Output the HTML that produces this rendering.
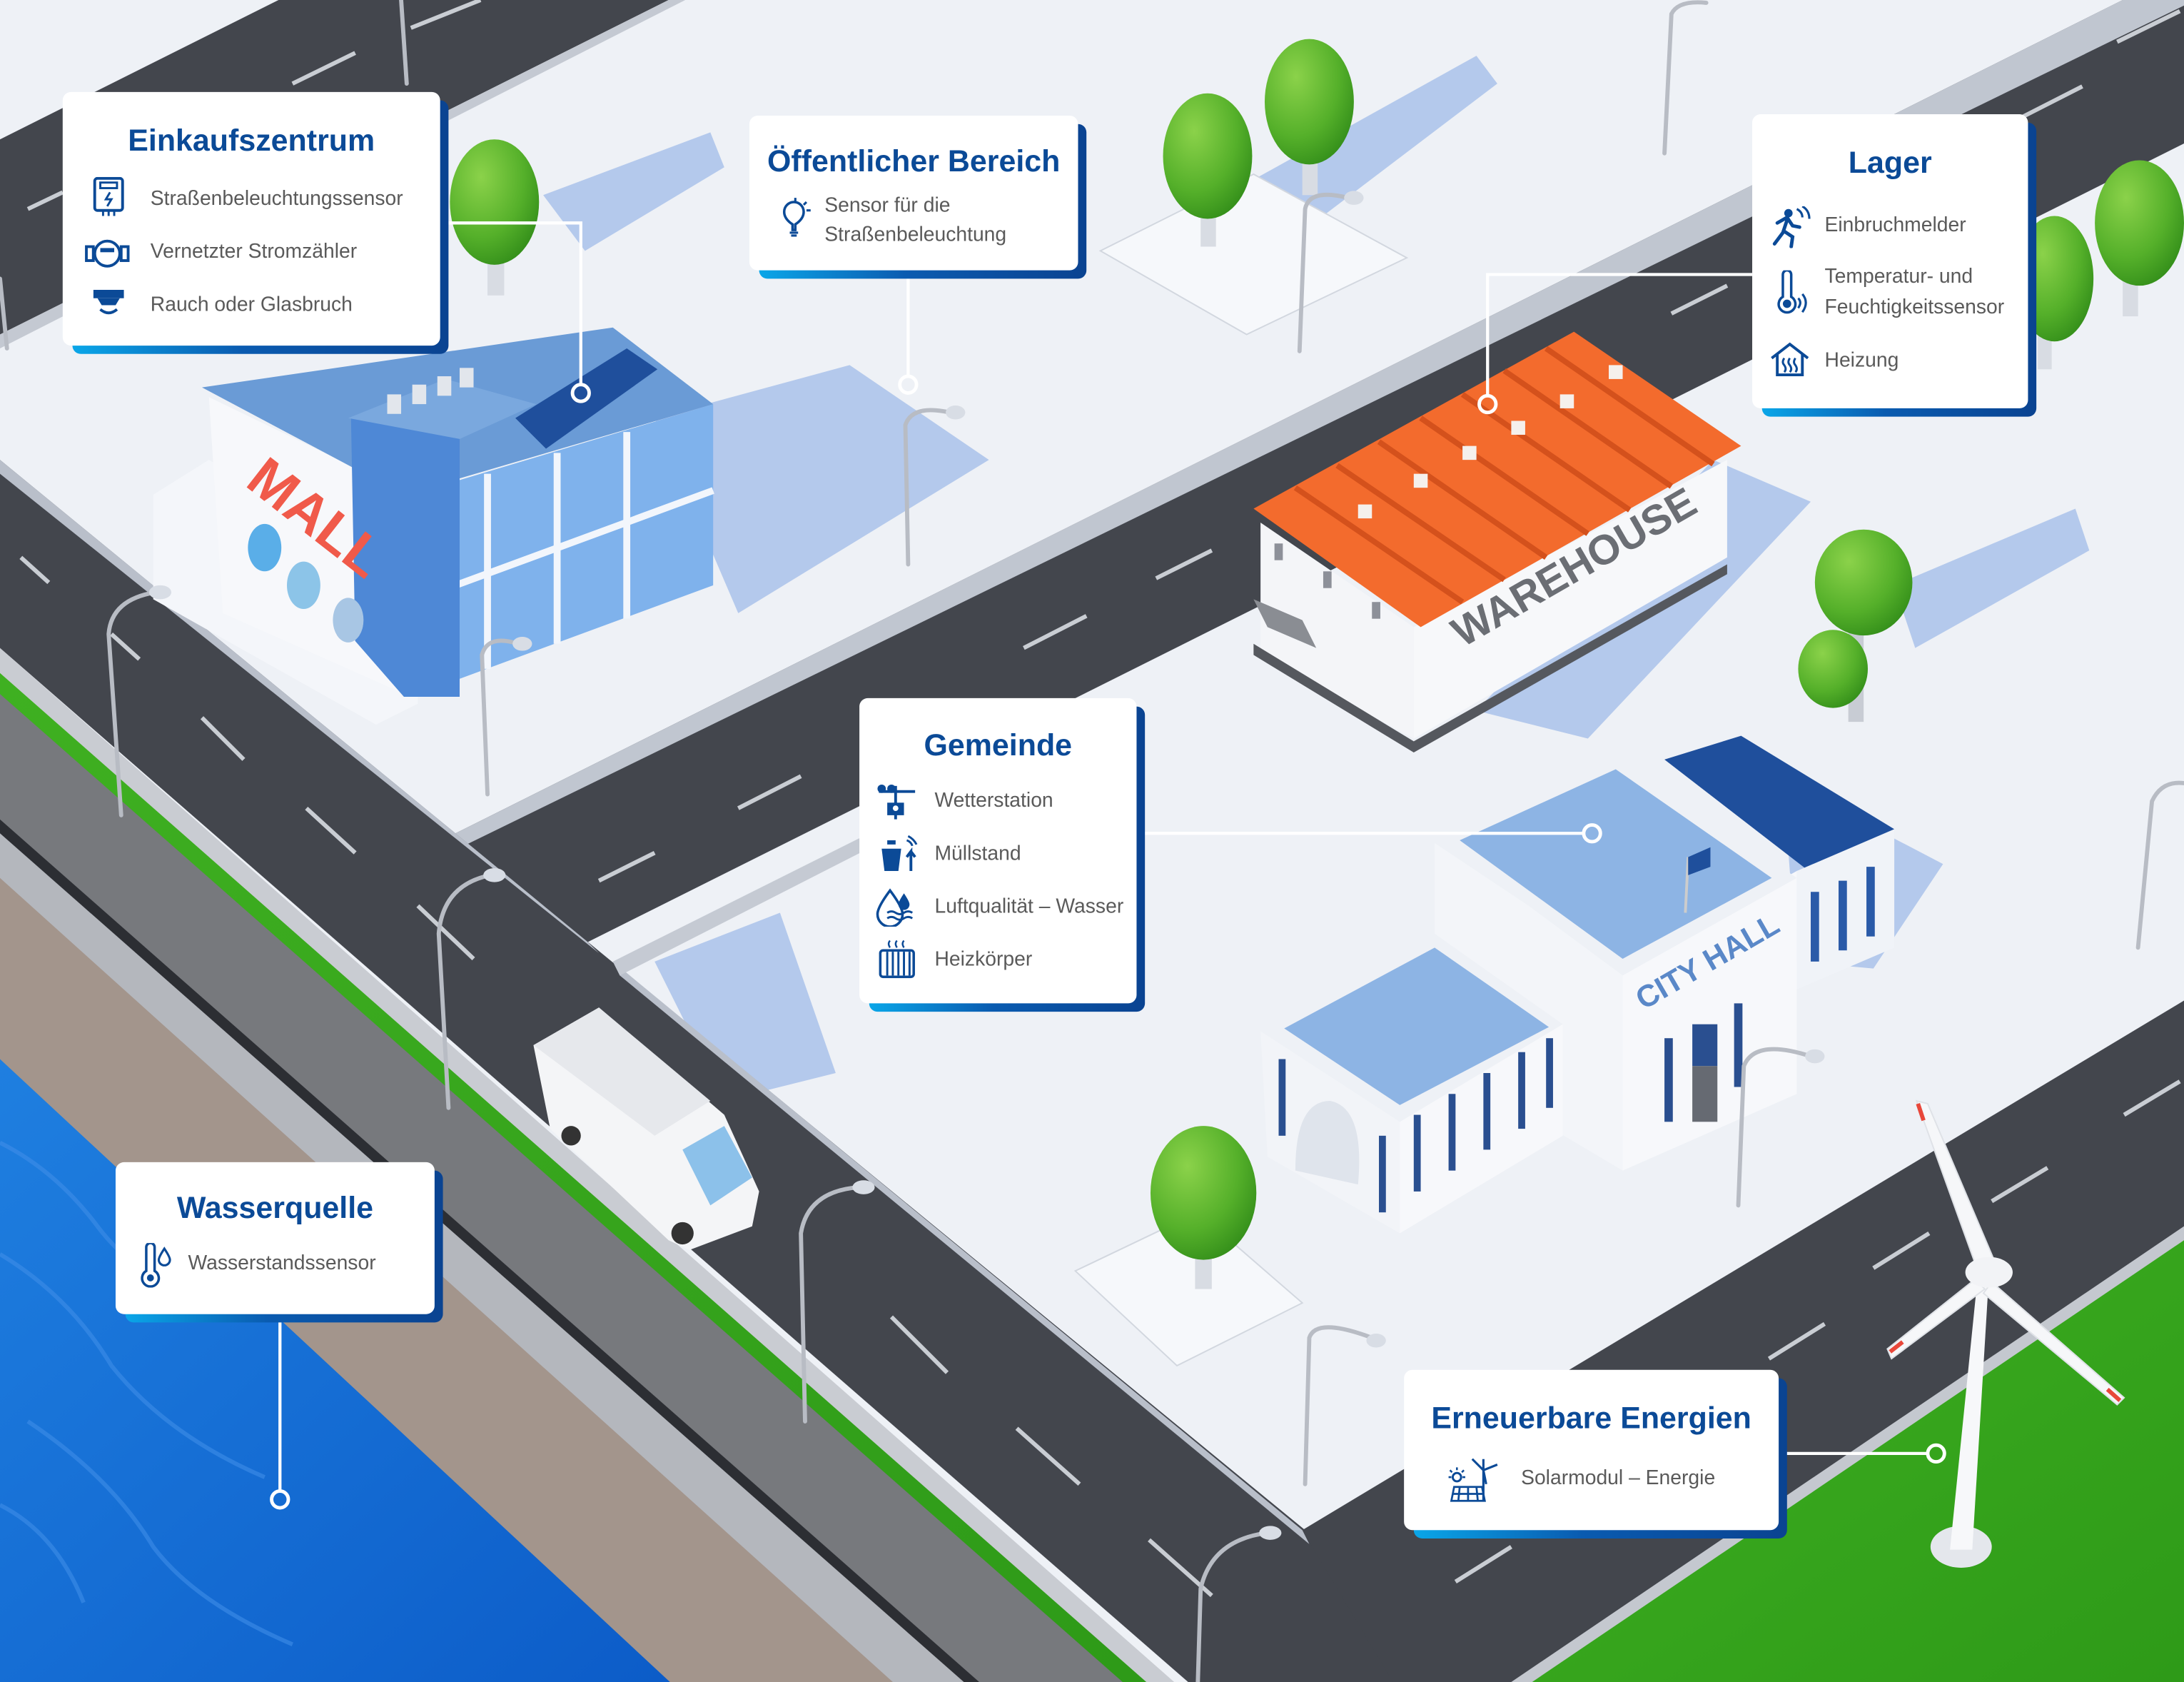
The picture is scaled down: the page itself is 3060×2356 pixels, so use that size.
<!DOCTYPE html>
<html><head><meta charset="utf-8">
<style>
html,body{margin:0;padding:0;}
body{width:3060px;height:2356px;overflow:hidden;background:#eef1f6;position:relative;}
#s{position:absolute;left:0;top:0;width:1568px;height:1207px;transform-origin:0 0;transform:scale(1.95153,1.95195);}
svg.scene{position:absolute;left:0;top:0;}
.card{position:absolute;}
.card .sh{position:absolute;left:7px;top:6px;right:-6px;bottom:-6px;border-radius:6px;background:linear-gradient(90deg,#0aa6e8 0%,#0a5bb0 45%,#0a4391 100%);}
.card .bd{position:absolute;left:0;top:0;right:0;bottom:0;background:#fff;border-radius:6px;}
.t{position:absolute;left:0;right:0;text-align:center;font-family:"Liberation Sans",sans-serif;font-weight:bold;font-size:22px;color:#0b4a97;white-space:nowrap;}
.i{position:absolute;font-family:"Liberation Sans",sans-serif;font-size:14.5px;color:#5a5a5a;white-space:nowrap;line-height:21px;}
.ic{position:absolute;}
</style></head><body>
<div id="s">
<svg class="scene" width="1568" height="1207" viewBox="0 0 1568 1207">
<defs>
<linearGradient id="wat" x1="0" y1="0" x2="1" y2="1"><stop offset="0" stop-color="#1f7fe0"/><stop offset="1" stop-color="#0c5cc8"/></linearGradient>
<linearGradient id="grs" x1="0" y1="0" x2="1" y2="1"><stop offset="0" stop-color="#3fb021"/><stop offset="1" stop-color="#2e9a18"/></linearGradient>
<radialGradient id="tree" cx="0.35" cy="0.3" r="0.8"><stop offset="0" stop-color="#8bd24a"/><stop offset="0.6" stop-color="#55b02a"/><stop offset="1" stop-color="#2f8a18"/></radialGradient>
</defs>
<rect width="1568" height="1207" fill="#eef1f6"/>
<!-- building shadows -->
<g fill="#a9c2ea" opacity="0.85">
<polygon points="470,300 610,262 710,330 530,440"/>
<polygon points="390,140 510,95 520,120 420,180"/>
<polygon points="880,140 1060,40 1075,60 930,170"/>
<polygon points="1230,330 1300,360 1140,530 1060,510"/>
<polygon points="1360,420 1490,365 1500,395 1375,465"/>
<polygon points="1280,560 1395,620 1345,695 1290,690"/>
<polygon points="470,690 560,655 600,770 520,790"/>
</g>
<!-- top-left road -->
<polygon points="0,100 200,0 480,0 0,240" fill="#43464d"/>
<polygon points="0,240 480,0 492,0 0,250" fill="#c4c9d2"/>
<!-- Road A -->
<polygon points="327,598 1524,0 1568,0 1568,103 422,676" fill="#43464d"/>
<polygon points="327,598 1524,0 1568,0 1568,4 335,606" fill="#c0c6d0"/>
<!-- canal bands -->
<polygon points="0,465 843,1207 0,1207" fill="#c9ccd2"/>
<polygon points="0,483 823,1207 0,1207" fill="url(#grs)"/>
<polygon points="0,498 806,1207 0,1207" fill="#77797d"/>
<polygon points="0,588 703,1207 0,1207" fill="#2c2e33"/>
<polygon points="0,598 692,1207 0,1207" fill="#b4b7bd"/>
<polygon points="0,630 641,1207 0,1207" fill="#a3958c"/>
<polygon points="0,760 481,1207 0,1207" fill="url(#wat)"/>
<g stroke="#3f8ee8" stroke-width="3" fill="none" opacity="0.6">
<path d="M0,820 q40,20 70,60 q30,40 90,60"/><path d="M0,900 q50,30 80,80 q40,50 110,80"/><path d="M20,1020 q60,40 90,90 q30,40 100,70"/><path d="M0,1080 q40,20 60,70"/>
</g>
<!-- Road B -->
<polygon points="0,330 1070,1207 853,1207 0,465" fill="#43464d"/>
<!-- Road C -->
<polygon points="935,1098 1568,718 1568,880 1090,1207 1000,1207" fill="#43464d"/>
<polygon points="1092,1207 1568,884 1568,1207" fill="url(#grs)"/>
<polygon points="1085,1207 1568,880 1568,890 1100,1207" fill="#c4c8cf"/>
<!-- block edges -->
<polygon points="0,330 327,598 422,676 430,684 0,340" fill="#b9bfca"/>
<polygon points="440,690 935,1098 940,1108 445,700" fill="#b9bfca"/>
<polygon points="440,690 640,590 645,598 445,700" fill="#c5cad3"/>
<!-- dashes -->
<g stroke="#c9cdd3" stroke-width="3">
<line x1="15" y1="400" x2="35" y2="418"/><line x1="80" y1="455" x2="100" y2="473"/><line x1="145" y1="515" x2="175" y2="545"/><line x1="220" y1="580" x2="255" y2="612"/><line x1="300" y1="650" x2="340" y2="688"/>
<line x1="640" y1="945" x2="680" y2="985"/><line x1="730" y1="1025" x2="775" y2="1065"/><line x1="825" y1="1105" x2="870" y2="1145"/>
<line x1="430" y1="632" x2="470" y2="612"/><line x1="530" y1="580" x2="575" y2="557"/><line x1="735" y1="465" x2="780" y2="442"/><line x1="830" y1="415" x2="870" y2="395"/><line x1="1005" y1="320" x2="1045" y2="300"/><line x1="1200" y1="225" x2="1240" y2="205"/><line x1="1440" y1="90" x2="1495" y2="62"/><line x1="1520" y1="30" x2="1565" y2="8"/>
<line x1="20" y1="150" x2="45" y2="138"/><line x1="210" y1="60" x2="255" y2="38"/><line x1="295" y1="20" x2="345" y2="0"/>
<line x1="1045" y1="1135" x2="1085" y2="1110"/><line x1="1270" y1="975" x2="1310" y2="950"/><line x1="1345" y1="910" x2="1385" y2="885"/><line x1="1430" y1="862" x2="1470" y2="838"/><line x1="1525" y1="800" x2="1565" y2="776"/>
</g>
<!-- sub-platforms -->
<polygon points="790,180 900,125 1010,185 895,240" fill="#f6f8fb" stroke="#d2d7df"/>
<polygon points="772,912 860,870 935,935 845,980" fill="#f6f8fb" stroke="#d2d7df"/>
<!-- MALL -->
<polygon points="110,355 150,330 300,420 300,505 270,520 110,430" fill="#f4f6fa"/>
<polygon points="150,285 295,355 295,500 160,440" fill="#f7f8fb"/>
<polygon points="295,355 512,290 512,420 295,500" fill="#7fb2ec"/>
<g stroke="#f2f6fc" stroke-width="5"><line x1="350" y1="340" x2="350" y2="480"/><line x1="400" y1="325" x2="400" y2="462"/><line x1="450" y1="310" x2="450" y2="444"/><line x1="300" y1="430" x2="512" y2="352"/></g>
<polygon points="145,278 440,235 512,290 290,355" fill="#6a9bd6"/>
<polygon points="370,300 450,250 472,265 392,322" fill="#1f4f9c"/>
<polygon points="252,300 330,275 330,500 290,500 255,460" fill="#4e88d6"/>
<polygon points="250,300 320,272 385,290 330,315" fill="#7aa8de"/>
<g fill="#e2e6ec"><rect x="278" y="283" width="10" height="14"/><rect x="296" y="276" width="10" height="14"/><rect x="314" y="270" width="10" height="14"/><rect x="330" y="264" width="10" height="14"/></g>
<text x="175" y="348" font-family="Liberation Sans,sans-serif" font-weight="bold" font-size="40" fill="#f05a4a" transform="rotate(38 175 348)">MALL</text>
<ellipse cx="190" cy="393" rx="12" ry="17" fill="#5aaee8"/><ellipse cx="218" cy="420" rx="12" ry="17" fill="#8cc4e8"/><ellipse cx="250" cy="445" rx="11" ry="16" fill="#a8c6e4"/>
<!-- WAREHOUSE -->
<polygon points="905,375 1015,450 1015,530 905,470" fill="#f4f5f8"/>
<polygon points="1015,450 1240,330 1240,400 1015,530" fill="#f7f8fa"/>
<polygon points="900,462 1015,532 1240,405 1240,412 1015,540 900,470" fill="#55585e"/>
<polygon points="900,365 1130,238 1250,320 1020,450" fill="#f36b2d"/>
<g stroke="#d4511c" stroke-width="4"><line x1="930" y1="350" x2="1050" y2="432"/><line x1="960" y1="334" x2="1080" y2="416"/><line x1="990" y1="317" x2="1110" y2="400"/><line x1="1020" y1="300" x2="1140" y2="383"/><line x1="1050" y1="283" x2="1170" y2="366"/><line x1="1080" y1="266" x2="1200" y2="349"/><line x1="1110" y1="250" x2="1230" y2="333"/></g>
<g fill="#f5f0ec"><rect x="975" y="362" width="10" height="10"/><rect x="1015" y="340" width="10" height="10"/><rect x="1050" y="320" width="10" height="10"/><rect x="1085" y="302" width="10" height="10"/><rect x="1120" y="283" width="10" height="10"/><rect x="1155" y="262" width="10" height="10"/></g>
<text x="1050" y="465" font-family="Liberation Sans,sans-serif" font-weight="bold" font-size="30" fill="#6b6e74" transform="rotate(-30 1050 465)">WAREHOUSE</text>
<polygon points="900,430 935,445 945,465 910,450" fill="#8a8d93"/>
<g fill="#8d9099"><rect x="915" y="390" width="6" height="12"/><rect x="950" y="410" width="6" height="12"/><rect x="985" y="432" width="6" height="12"/></g>
<!-- CITY HALL -->
<polygon points="1195,545 1250,528 1360,595 1305,630" fill="#1f4f9c"/>
<polygon points="1290,625 1360,595 1360,680 1290,710" fill="#f0f3f8"/>
<g fill="#2a5aa8"><rect x="1300" y="640" width="6" height="50"/><rect x="1320" y="632" width="6" height="50"/><rect x="1340" y="622" width="6" height="50"/></g>
<polygon points="1030,605 1165,695 1165,840 1030,760" fill="#f3f5f9"/>
<polygon points="1165,695 1290,625 1290,785 1165,840" fill="#f7f8fb"/>
<polygon points="1030,600 1160,540 1290,630 1165,700" fill="#eef1f6"/>
<polygon points="1048,603 1160,552 1272,630 1165,688" fill="#8db4e4"/>
<text x="1180" y="725" font-family="Liberation Sans,sans-serif" font-weight="bold" font-size="22" fill="#5a88c8" transform="rotate(-30 1180 725)">CITY HALL</text>
<g fill="#2a4f90"><rect x="1195" y="745" width="6" height="60"/><rect x="1215" y="735" width="18" height="30"/><rect x="1245" y="720" width="6" height="60"/></g>
<rect x="1215" y="765" width="18" height="40" fill="#666a72"/>
<line x1="1210" y1="655" x2="1212" y2="615" stroke="#ccc" stroke-width="2"/><polygon points="1212,615 1228,608 1228,622 1212,628" fill="#1f4f9c"/>
<polygon points="905,740 1005,805 1005,885 910,830" fill="#f2f4f8"/>
<polygon points="1005,805 1122,735 1122,815 1005,885" fill="#f7f8fb"/>
<polygon points="905,735 1030,670 1122,735 1005,805" fill="#eef1f6"/>
<polygon points="922,738 1030,680 1112,737 1005,793" fill="#8db4e4"/>
<path d="M930,840 q0,-50 25,-50 q25,5 20,60z" fill="#dfe4ec"/>
<g fill="#2a4f90"><rect x="918" y="760" width="5" height="55"/><rect x="990" y="815" width="5" height="55"/><rect x="1015" y="800" width="5" height="55"/><rect x="1040" y="785" width="5" height="55"/><rect x="1065" y="770" width="5" height="55"/><rect x="1090" y="755" width="5" height="55"/><rect x="1110" y="745" width="5" height="50"/></g>
<!-- VAN -->
<polygon points="383,750 430,723 520,800 545,855 540,880 495,897 480,890 395,810" fill="#f4f5f7"/>
<polygon points="383,750 430,723 510,790 470,815" fill="#e6e8ec"/>
<polygon points="490,825 520,808 540,845 510,865" fill="#8cc1ea"/>
<circle cx="410" cy="815" r="7" fill="#333"/><circle cx="490" cy="885" r="8" fill="#333"/>
<!-- Turbine -->
<ellipse cx="1408" cy="1110" rx="22" ry="15" fill="#e4e7ec"/>
<polygon points="1400,1112 1416,1112 1428,915 1420,915" fill="#f7f8fa"/>
<g fill="#f6f7f9" stroke="#dfe2e7" stroke-width="1">
<polygon points="1420,912 1376,790 1384,792 1432,905"/>
<polygon points="1418,918 1355,968 1358,975 1425,925"/>
<polygon points="1430,920 1525,1003 1520,1008 1424,928"/>
</g>
<ellipse cx="1428" cy="913" rx="17" ry="11" fill="#f2f3f6"/>
<g stroke="#e8473a" stroke-width="3"><line x1="1377" y1="792" x2="1381" y2="804"/><line x1="1357" y1="970" x2="1366" y2="963"/><line x1="1522" y1="1005" x2="1513" y2="997"/></g>
<!-- trees -->
<g>
<rect x="350" y="170" width="12" height="42" fill="#d8dce3"/><ellipse cx="355" cy="145" rx="32" ry="45" fill="url(#tree)"/>
<rect x="862" y="135" width="11" height="42" fill="#d8dce3"/><ellipse cx="867" cy="112" rx="32" ry="45" fill="url(#tree)"/>
<rect x="935" y="100" width="11" height="40" fill="#d8dce3"/><ellipse cx="940" cy="73" rx="32" ry="45" fill="url(#tree)"/>
<rect x="1463" y="225" width="10" height="40" fill="#d8dce3"/><ellipse cx="1475" cy="200" rx="28" ry="45" fill="url(#tree)"/>
<rect x="1524" y="185" width="11" height="42" fill="#d8dce3"/><ellipse cx="1536" cy="160" rx="32" ry="45" fill="url(#tree)"/>
<rect x="1327" y="450" width="11" height="68" fill="#c8ccd4"/><ellipse cx="1338" cy="418" rx="35" ry="38" fill="url(#tree)"/><ellipse cx="1316" cy="480" rx="25" ry="28" fill="url(#tree)"/>
<rect x="858" y="885" width="12" height="40" fill="#d8dce3"/><ellipse cx="864" cy="856" rx="38" ry="48" fill="url(#tree)"/>
</g>
<!-- lamps -->
<g stroke="#b8bcc4" stroke-width="3" fill="none" stroke-linecap="round">
<path d="M87,585 L78,455 Q80,430 112,425"/><path d="M322,795 L315,670 Q318,635 352,628"/><path d="M578,1020 L575,885 Q580,855 616,852"/>
<path d="M350,570 L346,470 Q350,455 372,462"/><path d="M652,405 L650,305 Q655,290 682,296"/><path d="M933,252 L937,150 Q940,135 968,142"/>
<path d="M1195,110 L1200,10 Q1205,0 1225,2"/><path d="M1248,865 L1252,765 Q1260,745 1300,758"/><path d="M937,1065 L940,960 Q945,945 985,960"/>
<path d="M860,1207 L862,1140 Q870,1105 910,1100"/><path d="M1535,680 L1545,575 Q1552,560 1568,562"/><path d="M292,60 L288,0"/><path d="M5,250 L0,200"/>
</g>
<g fill="#d8dde5"><ellipse cx="115" cy="425" rx="8" ry="5"/><ellipse cx="355" cy="628" rx="8" ry="5"/><ellipse cx="620" cy="852" rx="8" ry="5"/><ellipse cx="375" cy="462" rx="7" ry="5"/><ellipse cx="686" cy="296" rx="7" ry="5"/><ellipse cx="972" cy="142" rx="7" ry="5"/><ellipse cx="1303" cy="758" rx="7" ry="5"/><ellipse cx="988" cy="962" rx="7" ry="5"/><ellipse cx="912" cy="1100" rx="8" ry="5"/></g>
<!-- connectors -->
<g stroke="#fff" stroke-width="2.2" fill="none">
<polyline points="316,160 417,160 417,276"/>
<line x1="652" y1="194" x2="652" y2="270"/>
<polyline points="1258,197 1068,197 1068,284"/>
<line x1="816" y1="598" x2="1137" y2="598"/>
<line x1="201" y1="943" x2="201" y2="1070"/>
<line x1="1277" y1="1043" x2="1384" y2="1043"/>
</g>
<g stroke="#fff" stroke-width="2.5" fill="none">
<circle cx="417" cy="282" r="6"/><circle cx="652" cy="276" r="6"/><circle cx="1068" cy="290" r="6"/><circle cx="1143" cy="598" r="6"/><circle cx="201" cy="1076" r="6"/><circle cx="1390" cy="1043" r="6"/>
</g>
</svg>

<!-- Card 1 -->
<div class="card" style="left:45px;top:66px;width:271px;height:182px;">
<div class="sh"></div><div class="bd"></div>
<div class="t" style="top:22px;">Einkaufszentrum</div>
<svg class="ic" style="left:20px;top:61px" width="28" height="30" viewBox="0 0 28 30"><rect x="3" y="1" width="20" height="23" rx="2" fill="none" stroke="#0b4a97" stroke-width="2"/><rect x="7" y="4" width="12" height="4" fill="none" stroke="#0b4a97" stroke-width="1.5"/><path d="M14,11 l-3,5 h4 l-3,5" stroke="#0b4a97" stroke-width="1.5" fill="none"/><path d="M9,24 v4 M13,24 v4 M17,24 v4" stroke="#0b4a97" stroke-width="1.5"/></svg>
<div class="i" style="left:63px;top:67px;">Straßenbeleuchtungssensor</div>
<svg class="ic" style="left:16px;top:105px" width="32" height="22" viewBox="0 0 32 22"><circle cx="16" cy="11" r="9" fill="none" stroke="#0b4a97" stroke-width="2"/><rect x="1" y="6" width="5" height="10" fill="none" stroke="#0b4a97" stroke-width="2"/><rect x="26" y="6" width="5" height="10" fill="none" stroke="#0b4a97" stroke-width="2"/><rect x="11" y="7" width="10" height="3" fill="#0b4a97"/></svg>
<div class="i" style="left:63px;top:105px;">Vernetzter Stromzähler</div>
<svg class="ic" style="left:22px;top:142px" width="22" height="20" viewBox="0 0 22 20"><rect x="0" y="0" width="22" height="6" fill="#0b4a97"/><path d="M3,6 h16 l-3,5 h-10z" fill="#0b4a97"/><path d="M5,14 q6,5 12,0" stroke="#0b4a97" stroke-width="2" fill="none"/></svg>
<div class="i" style="left:63px;top:143px;">Rauch oder Glasbruch</div>
</div>

<!-- Card 2 -->
<div class="card" style="left:538px;top:83px;width:236px;height:111px;">
<div class="sh"></div><div class="bd"></div>
<div class="t" style="top:20px;">Öffentlicher Bereich</div>
<svg class="ic" style="left:20px;top:58px" width="26" height="30" viewBox="0 0 26 30"><path d="M11,24 v-4 q-6,-4 -6,-9 a7,7 0 0 1 14,0 q0,5 -6,9 v4z" fill="none" stroke="#0b4a97" stroke-width="1.8"/><path d="M9,26 h6 M10,28 h4" stroke="#0b4a97" stroke-width="1.6"/><path d="M13,1 v3 M21,4 l-2,2 M24,10 h-3" stroke="#0b4a97" stroke-width="1.6"/></svg>
<div class="i" style="left:54px;top:55px;">Sensor für die</div>
<div class="i" style="left:54px;top:76px;">Straßenbeleuchtung</div>
</div>

<!-- Card 3 -->
<div class="card" style="left:1258px;top:82px;width:198px;height:211px;">
<div class="sh"></div><div class="bd"></div>
<div class="t" style="top:22px;">Lager</div>
<svg class="ic" style="left:12px;top:66px" width="32" height="30" viewBox="0 0 32 30"><circle cx="14" cy="5" r="3" fill="#0b4a97"/><path d="M6,12 l7,-4 l4,6 l5,1 M13,10 l-3,9 l-6,8 M11,18 l6,4 l-1,7" stroke="#0b4a97" stroke-width="2.5" fill="none" stroke-linecap="round"/><path d="M20,2 q4,2 4,6 M24,0 q5,3 5,9" stroke="#0b4a97" stroke-width="1.6" fill="none"/></svg>
<div class="i" style="left:52px;top:70px;">Einbruchmelder</div>
<svg class="ic" style="left:16px;top:112px" width="26" height="32" viewBox="0 0 26 32"><path d="M6,3 a3,3 0 0 1 6,0 v16 a6,6 0 1 1 -6,0z" fill="none" stroke="#0b4a97" stroke-width="1.8"/><circle cx="9" cy="24" r="3" fill="#0b4a97"/><path d="M17,20 q3,3 0,7 M20,17 q5,6 0,13" stroke="#0b4a97" stroke-width="1.6" fill="none"/></svg>
<div class="i" style="left:52px;top:107px;">Temperatur- und</div>
<div class="i" style="left:52px;top:129px;">Feuchtigkeitssensor</div>
<svg class="ic" style="left:12px;top:163px" width="30" height="26" viewBox="0 0 30 26"><path d="M2,12 L15,2 L28,12 M6,9 v15 h18 v-15" fill="none" stroke="#0b4a97" stroke-width="2"/><path d="M11,12 q-2,3 0,5 q2,3 0,5 M15,12 q-2,3 0,5 q2,3 0,5 M19,12 q-2,3 0,5 q2,3 0,5" stroke="#0b4a97" stroke-width="1.5" fill="none"/></svg>
<div class="i" style="left:52px;top:167px;">Heizung</div>
</div>

<!-- Card 4 -->
<div class="card" style="left:617px;top:501px;width:199px;height:219px;">
<div class="sh"></div><div class="bd"></div>
<div class="t" style="top:21px;">Gemeinde</div>
<svg class="ic" style="left:12px;top:61px" width="30" height="26" viewBox="0 0 30 26"><path d="M2,6 h26 M14,2 v24" stroke="#0b4a97" stroke-width="2"/><circle cx="4" cy="4" r="3" fill="#0b4a97"/><circle cx="11" cy="4" r="3" fill="#0b4a97"/><rect x="8" y="14" width="12" height="9" fill="#0b4a97"/><circle cx="14" cy="18" r="2" fill="#fff"/></svg>
<div class="i" style="left:54px;top:64px;">Wetterstation</div>
<svg class="ic" style="left:12px;top:98px" width="30" height="28" viewBox="0 0 30 28"><path d="M2,8 h18 M4,10 l2,16 h10 l2,-16z" fill="#0b4a97"/><rect x="8" y="4" width="6" height="3" fill="#0b4a97"/><path d="M25,26 v-14 l-3,4 M25,12 l3,4" stroke="#0b4a97" stroke-width="2" fill="none"/><path d="M22,4 q3,1 4,4 M23,1 q4,2 6,6" stroke="#0b4a97" stroke-width="1.5" fill="none"/></svg>
<div class="i" style="left:54px;top:102px;">Müllstand</div>
<svg class="ic" style="left:12px;top:136px" width="30" height="28" viewBox="0 0 30 28"><path d="M10,2 q-9,12 -9,17 a9,9 0 0 0 18,0 q0,-5 -9,-17z" fill="none" stroke="#0b4a97" stroke-width="1.8"/><path d="M20,4 q-4,6 -4,8 a4,4 0 0 0 8,0 q0,-2 -4,-8z" fill="#0b4a97"/><path d="M8,18 q3,-2 6,0 t6,0 t6,0 M8,22 q3,-2 6,0 t6,0 t6,0" stroke="#0b4a97" stroke-width="1.5" fill="none"/></svg>
<div class="i" style="left:54px;top:140px;">Luftqualität – Wasser</div>
<svg class="ic" style="left:12px;top:173px" width="30" height="28" viewBox="0 0 30 28"><rect x="3" y="8" width="24" height="19" rx="2" fill="none" stroke="#0b4a97" stroke-width="1.8"/><path d="M8,9 v17 M12,9 v17 M16,9 v17 M20,9 v17 M24,9 v17" stroke="#0b4a97" stroke-width="1.5"/><path d="M10,1 q-2,2 0,5 M15,1 q-2,2 0,5 M20,1 q-2,2 0,5" stroke="#0b4a97" stroke-width="1.2" fill="none"/></svg>
<div class="i" style="left:54px;top:178px;">Heizkörper</div>
</div>

<!-- Card 5 -->
<div class="card" style="left:83px;top:834px;width:229px;height:109px;">
<div class="sh"></div><div class="bd"></div>
<div class="t" style="top:20px;">Wasserquelle</div>
<svg class="ic" style="left:18px;top:58px" width="24" height="32" viewBox="0 0 24 32"><path d="M4,3 a3,3 0 0 1 6,0 v17 a6,6 0 1 1 -6,0z" fill="none" stroke="#0b4a97" stroke-width="1.8"/><circle cx="7" cy="25" r="2.5" fill="#0b4a97"/><path d="M17,4 q-4,6 -4,8 a4,4 0 0 0 8,0 q0,-2 -4,-8z" fill="none" stroke="#0b4a97" stroke-width="1.6"/></svg>
<div class="i" style="left:52px;top:63px;">Wasserstandssensor</div>
</div>

<!-- Card 6 -->
<div class="card" style="left:1008px;top:983px;width:269px;height:115px;">
<div class="sh"></div><div class="bd"></div>
<div class="t" style="top:22px;">Erneuerbare Energien</div>
<svg class="ic" style="left:30px;top:60px" width="40" height="38" viewBox="0 0 40 38"><path d="M27,4 v30 M27,12 l-8,-8 M27,12 l10,-4 M27,12 l2,10" stroke="#0b4a97" stroke-width="1.6" fill="none"/><path d="M6,24 h20 l2,10 h-24z M10,24 l-1,10 M16,24 v10 M22,24 l1,10 M5,29 h22" stroke="#0b4a97" stroke-width="1.4" fill="none"/><circle cx="8" cy="17" r="3" fill="none" stroke="#0b4a97" stroke-width="1.5"/><path d="M8,10 v2 M2,17 h2 M12,17 h2 M3,12 l1.5,1.5 M13,12 l-1.5,1.5" stroke="#0b4a97" stroke-width="1.3"/></svg>
<div class="i" style="left:84px;top:68px;">Solarmodul – Energie</div>
</div>
</div>
</body></html>
